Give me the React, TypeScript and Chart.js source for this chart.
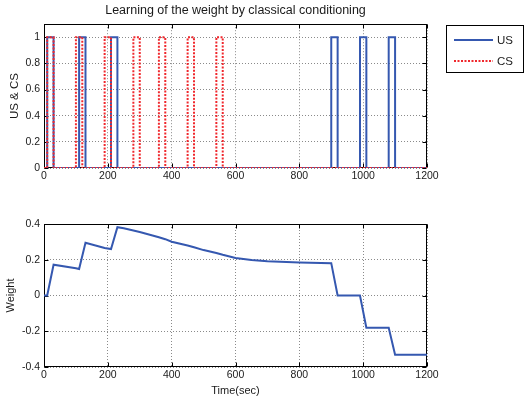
import React, { useEffect, useRef } from 'react';
import { Chart, registerables } from 'chart.js';

Chart.register(...registerables);

// ---------- data ----------
const TITLE = 'Learning of the weight by classical conditioning';
const X_TICKS = [0, 200, 400, 600, 800, 1000, 1200];
const TOP_Y_TICKS = [0, 0.2, 0.4, 0.6, 0.8, 1];
const BOTTOM_Y_TICKS = [-0.4, -0.2, 0, 0.2, 0.4];
const US_ONSETS = [10, 110, 210, 900, 990, 1080];
const CS_ONSETS = [10, 100, 190, 280, 360, 450, 540];
const PULSE_WIDTH = 20;
const WEIGHT_TIME = [0, 10, 30, 100, 110, 130, 190, 210, 230, 250, 280, 300, 340, 360, 380, 400, 450, 470, 500, 540, 560, 600, 650, 700, 800, 900, 920, 990, 1010, 1080, 1100, 1200];
const WEIGHT_VALUE = [0, 0, 0.172, 0.152, 0.148, 0.295, 0.266, 0.26, 0.382, 0.376, 0.364, 0.355, 0.336, 0.326, 0.315, 0.301, 0.28, 0.27, 0.254, 0.238, 0.228, 0.21, 0.199, 0.192, 0.185, 0.181, 0, 0, -0.18, -0.18, -0.332, -0.332];
const LEGEND_LABELS = ['US', 'CS'];

// ---------- styles ----------
const FONT = 'Liberation Sans, Arial, Helvetica, sans-serif';
const BLUE = '#3558b0';
const RED = 'rgb(240,40,45)';
const TEXT = '#1a1a1a';
const GRID = '#8a8a8a';
const CS_DASH = [2, 1.5];

function pulseTrain(onsets: number[], width: number, xmax: number) {
  const pts: { x: number; y: number }[] = [{ x: 0, y: 0 }];
  onsets.forEach((on) => {
    pts.push({ x: on, y: 0 }, { x: on, y: 1 }, { x: on + width, y: 1 }, { x: on + width, y: 0 });
  });
  pts.push({ x: xmax, y: 0 });
  return pts;
}

const fmt = (v: number) => String(Math.round(v * 10) / 10);

const framePlugin = {
  id: 'matlabFrame',
  beforeDatasetsDraw(chart: any) {
    const { ctx, chartArea: a, scales } = chart;
    const L = Math.round(a.left) + 0.5;
    const R = Math.round(a.right) - 0.5;
    const T = Math.round(a.top) + 0.5;
    const B = Math.round(a.bottom) - 0.5;
    ctx.save();
    ctx.strokeStyle = '#000';
    ctx.lineWidth = 1;
    ctx.setLineDash([]);
    ctx.strokeRect(L, T, R - L, B - T);
    const tl = 4;
    ctx.beginPath();
    scales.x.ticks.forEach((t: any) => {
      const px = Math.round(scales.x.getPixelForValue(t.value)) + 0.5;
      ctx.moveTo(px, B);
      ctx.lineTo(px, B - tl);
      ctx.moveTo(px, T);
      ctx.lineTo(px, T + tl);
    });
    scales.y.ticks.forEach((t: any) => {
      const py = Math.round(scales.y.getPixelForValue(t.value)) + 0.5;
      ctx.moveTo(L, py);
      ctx.lineTo(L + tl, py);
      ctx.moveTo(R, py);
      ctx.lineTo(R - tl, py);
    });
    ctx.stroke();
    ctx.restore();
  },
};

const legendPlugin = {
  id: 'matlabLegend',
  afterDraw(chart: any) {
    if (!chart.options.plugins.matlabLegend?.show) return;
    const { ctx } = chart;
    ctx.save();
    ctx.fillStyle = '#fff';
    ctx.fillRect(446, 25, 78, 48);
    ctx.strokeStyle = '#000';
    ctx.lineWidth = 1;
    ctx.strokeRect(446.5, 25.5, 77, 47);
    const rows = [
      { y: 40, color: BLUE, dash: [] as number[] },
      { y: 61, color: RED, dash: CS_DASH },
    ];
    rows.forEach((r, i) => {
      ctx.beginPath();
      ctx.strokeStyle = r.color;
      ctx.lineWidth = 2;
      ctx.setLineDash(r.dash);
      ctx.moveTo(454, r.y);
      ctx.lineTo(493, r.y);
      ctx.stroke();
      ctx.setLineDash([]);
      ctx.fillStyle = TEXT;
      ctx.font = `11.5px ${FONT}`;
      ctx.textBaseline = 'middle';
      ctx.textAlign = 'left';
      ctx.fillText(LEGEND_LABELS[i], 497, r.y + 0.5);
    });
    ctx.restore();
  },
};

function axisCommon(ticks: number[]) {
  return {
    type: 'linear' as const,
    afterBuildTicks: (s: any) => {
      s.ticks = ticks.map((v) => ({ value: v }));
    },
    grid: { color: GRID, lineWidth: 1, drawTicks: false },
    border: { display: false, dash: [1, 2] },
  };
}

export default function App() {
  const topRef = useRef<HTMLCanvasElement | null>(null);
  const botRef = useRef<HTMLCanvasElement | null>(null);

  useEffect(() => {
    const tickFont = { family: FONT, size: 10.5 };
    const top = new Chart(topRef.current as HTMLCanvasElement, {
      type: 'line',
      data: {
        datasets: [
          {
            label: 'US',
            data: pulseTrain(US_ONSETS, PULSE_WIDTH, 1200),
            borderColor: BLUE,
            borderWidth: 2,
            pointRadius: 0,
            tension: 0,
            order: 1,
          },
          {
            label: 'CS',
            data: pulseTrain(CS_ONSETS, PULSE_WIDTH, 1200),
            borderColor: RED,
            borderWidth: 2,
            borderDash: CS_DASH,
            pointRadius: 0,
            tension: 0,
            order: 0,
          },
        ],
      },
      options: {
        responsive: false,
        animation: false,
        events: [],
        layout: { padding: { left: 0, top: 0, right: 98, bottom: 0 } },
        plugins: {
          legend: { display: false },
          tooltip: { enabled: false },
          title: {
            display: true,
            text: TITLE,
            fullSize: false,
            color: TEXT,
            font: { family: FONT, size: 12.5, weight: 'normal' },
            padding: { top: 3, bottom: 6.2 },
          },
          matlabLegend: { show: true },
        } as any,
        scales: {
          x: {
            ...axisCommon(X_TICKS),
            min: 0,
            max: 1200,
            afterFit: (s: any) => {
              s.height = 32;
            },
            ticks: { font: tickFont, color: TEXT, padding: 2, maxRotation: 0, autoSkip: false, callback: (v: any) => String(v) },
          },
          y: {
            ...axisCommon(TOP_Y_TICKS),
            min: 0,
            max: 1.1,
            afterFit: (s: any) => {
              s.width = 44;
            },
            ticks: { font: tickFont, color: TEXT, padding: 4, autoSkip: false, callback: (v: any) => fmt(v) },
            title: { display: true, text: 'US & CS', color: TEXT, font: { family: FONT, size: 11.5 }, padding: { top: 8, bottom: 0 } },
          },
        },
      } as any,
      plugins: [framePlugin, legendPlugin],
    });

    const bottom = new Chart(botRef.current as HTMLCanvasElement, {
      type: 'line',
      data: {
        datasets: [
          {
            label: 'Weight',
            data: WEIGHT_TIME.map((t, i) => ({ x: t, y: WEIGHT_VALUE[i] })),
            borderColor: BLUE,
            borderWidth: 2,
            pointRadius: 0,
            tension: 0,
          },
        ],
      },
      options: {
        responsive: false,
        animation: false,
        events: [],
        layout: { padding: { left: 0, top: 24, right: 98, bottom: 0 } },
        plugins: {
          legend: { display: false },
          tooltip: { enabled: false },
          title: { display: false },
        },
        scales: {
          x: {
            ...axisCommon(X_TICKS),
            min: 0,
            max: 1200,
            afterFit: (s: any) => {
              s.height = 33;
            },
            ticks: { font: tickFont, color: TEXT, padding: 2, maxRotation: 0, autoSkip: false, callback: (v: any) => String(v) },
            title: { display: true, text: 'Time(sec)', color: TEXT, font: { family: FONT, size: 11 }, padding: { top: 0, bottom: 2 } },
          },
          y: {
            ...axisCommon(BOTTOM_Y_TICKS),
            min: -0.4,
            max: 0.4,
            afterFit: (s: any) => {
              s.width = 44;
            },
            ticks: { font: tickFont, color: TEXT, padding: 4, autoSkip: false, callback: (v: any) => fmt(v) },
            title: { display: true, text: 'Weight', color: TEXT, font: { family: FONT, size: 11 }, padding: { top: 4, bottom: 0 } },
          },
        },
      } as any,
      plugins: [framePlugin],
    });

    return () => {
      top.destroy();
      bottom.destroy();
    };
  }, []);

  return (
    <div style={{ position: 'absolute', left: 0, top: 0, width: 525, height: 400, background: '#fff', overflow: 'hidden' }}>
      <canvas ref={topRef} width={525} height={200} style={{ position: 'absolute', left: 0, top: 0 }} />
      <canvas ref={botRef} width={525} height={200} style={{ position: 'absolute', left: 0, top: 200 }} />
    </div>
  );
}
